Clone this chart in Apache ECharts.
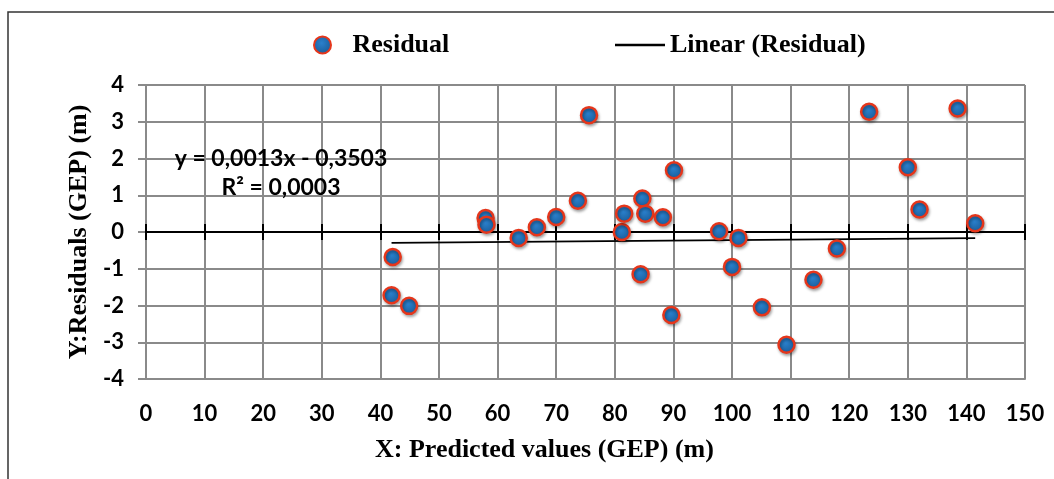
<!DOCTYPE html>
<html><head><meta charset="utf-8">
<script src="https://cdn.jsdelivr.net/npm/echarts@6/dist/echarts.min.js"></script>
<style>html,body{margin:0;padding:0;background:#fff}#c{width:1054px;height:479px}</style>
</head><body><div id="c"></div>
<script>
// Data
const predicted = [41.9, 42.1, 44.9, 57.95, 58.1, 63.6, 66.7, 70.0, 73.7, 75.6, 81.2, 81.6, 84.4, 84.7, 85.2, 88.2, 89.65, 90.1, 97.8, 100.0, 101.1, 105.1, 109.3, 113.9, 117.9, 123.4, 130.0, 132.0, 138.5, 141.5];
const residuals = [-1.72, -0.68, -2.01, 0.38, 0.20, -0.16, 0.13, 0.41, 0.85, 3.18, 0.00, 0.50, -1.15, 0.91, 0.50, 0.40, -2.26, 1.68, 0.02, -0.95, -0.16, -2.05, -3.07, -1.30, -0.45, 3.27, 1.76, 0.61, 3.36, 0.24];
const trendSlope = 0.0013;
const trendIntercept = -0.3503;
const rSquared = 0.0003;
const xRange = [0, 150, 10];
const yRange = [-4, 4, 1];

const points = predicted.map((x, i) => [x, residuals[i]]);
const xMin = Math.min(...predicted), xMax = Math.max(...predicted);
const trend = [xMin, xMax].map(x => [x, trendSlope * x + trendIntercept]);
const fmt = (v) => v.toFixed(4).replace('.', ',');

const GRID = '#8a8a8a';
const serif = 'Liberation Serif';
const tickFont = { fontFamily: 'Lato', fontWeight: 'bold', fontSize: 22, color: '#000' };
const legendText = { fontFamily: serif, fontWeight: 'bold', fontSize: 26, color: '#000' };

const chart = echarts.init(document.getElementById('c'));
const zeroAxis = (pos) => ({
  type: 'value', min: xRange[0], max: xRange[1], interval: xRange[2], position: pos,
  axisLine: { show: true, onZero: true, onZeroAxisIndex: 0, lineStyle: { color: '#000', width: 2 } },
  axisTick: { show: true, length: 8, lineStyle: { color: '#000', width: 2 } },
  axisLabel: { show: false }, splitLine: { show: false }
});
chart.setOption({
  backgroundColor: '#fff',
  animation: false,
  grid: { left: 146, right: 29, top: 85, bottom: 100, containLabel: false, outerBoundsMode: 'none' },
  title: [{
    text: 'X: Predicted values (GEP) (m)', left: 375, top: 437, padding: 0,
    textStyle: { fontFamily: serif, fontWeight: 'bold', fontSize: 26, color: '#000' }
  }],
  legend: [
    { data: ['Residual'], left: 308, top: 27, itemWidth: 50, itemHeight: 17, textStyle: legendText },
    { data: [{ name: 'Linear (Residual)', icon: 'path://M0,0 L50,0 L50,2.4 L0,2.4 Z' }],
      left: 610, top: 27, itemWidth: 50, itemHeight: 17, textStyle: legendText,
      itemStyle: { color: '#000', borderWidth: 0 } }
  ],
  xAxis: [
    { type: 'value', min: xRange[0], max: xRange[1], interval: xRange[2], position: 'bottom',
      axisLine: { show: true, onZero: false, lineStyle: { color: GRID, width: 2 } },
      axisTick: { show: false },
      axisLabel: Object.assign({ margin: 24 }, tickFont),
      splitLine: { show: true, lineStyle: { color: GRID, width: 2 } } },
    zeroAxis('bottom'),
    zeroAxis('top')
  ],
  yAxis: [{
    type: 'value', min: yRange[0], max: yRange[1], interval: yRange[2],
    name: 'Y:Residuals (GEP) (m)', nameLocation: 'middle', nameGap: 52,
    nameTextStyle: { fontFamily: serif, fontWeight: 'bold', fontSize: 26, color: '#000' },
    axisLine: { show: true, onZero: false, lineStyle: { color: GRID, width: 2 } },
    axisTick: { show: true, length: 8, lineStyle: { color: GRID, width: 2 } },
    axisLabel: Object.assign({ margin: 22 }, tickFont),
    splitLine: { show: true, lineStyle: { color: GRID, width: 2 } }
  }],
  series: [
    { name: 'Linear (Residual)', type: 'line', data: trend, xAxisIndex: 0, yAxisIndex: 0,
      symbol: 'none', lineStyle: { color: '#000', width: 1.8 }, itemStyle: { color: '#000' }, z: 3 },
    { name: 'Residual', type: 'scatter', data: points, xAxisIndex: 0, yAxisIndex: 0,
      symbol: 'circle', symbolSize: 16, z: 4,
      itemStyle: {
        opacity: 1,
        color: new echarts.graphic.RadialGradient(0.45, 0.4, 0.7, [
          { offset: 0, color: '#2a80cc' }, { offset: 1, color: '#17558f' }]),
        borderColor: '#e5361b', borderWidth: 2.5,
        shadowBlur: 3, shadowColor: 'rgba(0,0,0,0.3)', shadowOffsetX: 1, shadowOffsetY: 2
      } }
  ],
  graphic: [
    { type: 'rect', silent: true, z: -10, shape: { x: 8, y: 12, width: 1200, height: 700 },
      style: { fill: 'none', stroke: '#333', lineWidth: 1.5 } },
    { type: 'text', x: 281, y: 159, z: 100,
      style: { text: 'y = ' + fmt(trendSlope) + 'x - ' + fmt(-trendIntercept), fill: '#000',
        font: 'bold 23px Lato', align: 'center', verticalAlign: 'middle' } },
    { type: 'text', x: 281, y: 188, z: 100,
      style: { text: 'R\u00b2 = ' + fmt(rSquared), fill: '#000',
        font: 'bold 23px Lato', align: 'center', verticalAlign: 'middle' } }
  ]
});
</script></body></html>
